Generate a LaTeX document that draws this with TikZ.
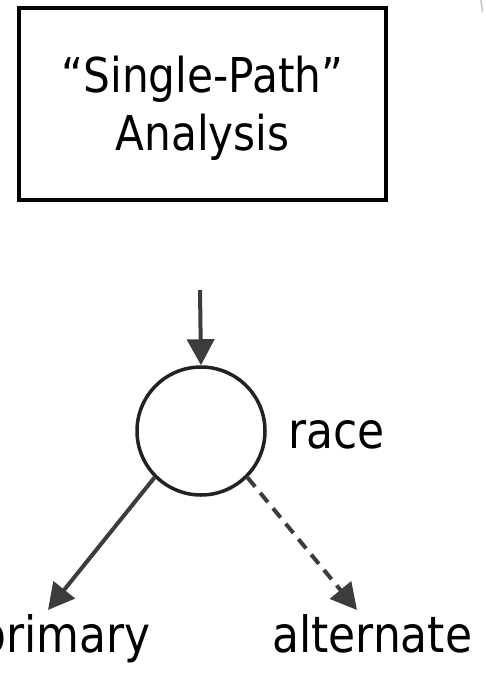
\documentclass[tikz,border=0pt]{standalone}
\usepackage{fontspec}
\setmainfont{DejaVu Sans}[FakeStretch=0.88]
\usetikzlibrary{arrows.meta}
\definecolor{arrowgray}{HTML}{3C3C3C}
\definecolor{ringgray}{HTML}{222222}
\begin{document}
\begin{tikzpicture}[x=1pt,y=-1pt,
  titlebox/.style={draw=black, line width=4pt, align=center,
    minimum width=367pt, minimum height=192pt, inner sep=0pt,
    font=\fontsize{48}{58}\selectfont},
  ring/.style={circle, draw=ringgray, line width=3.5pt, minimum size=128pt, inner sep=0pt},
  lbl/.style={font=\fontsize{50}{58}\selectfont, inner sep=0pt},
  conn/.style={draw=arrowgray, line width=4pt,
    -{Triangle[width=27pt,length=26pt]}},
  altconn/.style={conn, dash pattern=on 12pt off 8pt}
]
\useasboundingbox (0,0) rectangle (485,677);
\fill[white] (0,0) rectangle (485,677);

% title box
\node[titlebox] (box) at (202.5,104) {};
\node[align=center, inner sep=0pt, font=\fontsize{48}{58}\selectfont]
  (title) at (202.5,108) {“Single-Path”\\Analysis};

% race node and its label
\node[ring] (race) at (201,431) {};
\node[lbl, anchor=base west] (racelbl) at (288,448) {race};

% outcome labels
\node[lbl, anchor=base east] (primary) at (151,652) {primary};
\node[lbl, anchor=base west] (alternate) at (272,652) {alternate};

% connectors
\coordinate (src) at (200,290);
\coordinate (ptip) at (48,610);
\coordinate (atip) at (357,610);
\draw[conn] (src) -- (race.north);
\draw[conn] (race.225) -- (ptip);
\draw[altconn] (race.-45) -- (atip);

% faint edge at the upper right
\draw[gray!45, line width=1.5pt] (481,0) -- (482.5,12);
\end{tikzpicture}
\end{document}
